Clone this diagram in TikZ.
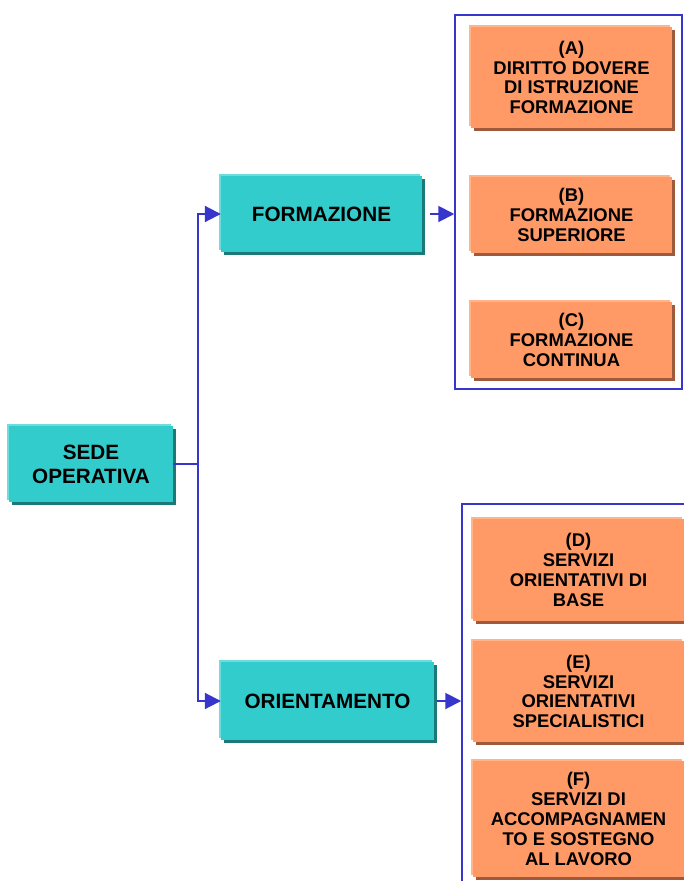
\documentclass[tikz,border=0pt]{standalone}
\usepackage{fontspec}
\setmainfont{Liberation Sans}
\usetikzlibrary{arrows.meta,shadows}
\definecolor{tealmain}{HTML}{33CCCC}
\definecolor{teallight}{HTML}{6CDCDC}
\definecolor{tealdark}{HTML}{1B7A78}
\definecolor{orgmain}{HTML}{FF9966}
\definecolor{orglight}{HTML}{FFB48A}
\definecolor{orgdark}{HTML}{9E5A3A}
\definecolor{linkblue}{HTML}{3636CC}
\tikzset{
  tealbox/.style={rectangle, inner sep=0pt, fill=tealmain, align=center,
    font=\bfseries\fontsize{20.7}{24}\selectfont,
    general shadow={fill=teallight, shadow xshift=-2pt, shadow yshift=2pt},
    general shadow={fill=tealdark, shadow xshift=3pt, shadow yshift=-3pt}},
  orgbox/.style={rectangle, inner sep=0pt, fill=orgmain, align=center,
    font=\bfseries\fontsize{18.4}{19.8}\selectfont,
    general shadow={fill=orglight, shadow xshift=-2pt, shadow yshift=2pt},
    general shadow={fill=orgdark, shadow xshift=3pt, shadow yshift=-3pt}},
  bracketbox/.style={rectangle, inner sep=0pt, draw=linkblue, line width=1.5pt},
  link/.style={draw=linkblue, line width=2pt},
  arrowlink/.style={link, -{Triangle[length=16pt,width=16pt]}}
}
\begin{document}
\begin{tikzpicture}[x=1pt,y=-1pt]
\clip (0,0) rectangle (684,881);
\fill[white] (0,0) rectangle (684,881);
% brackets
\node[bracketbox, minimum width=227pt, minimum height=374pt] (br1) at (568.5,202) {};
\node[bracketbox, minimum width=238pt, minimum height=396pt] (br2) at (581,702) {};
% main boxes
\node[tealbox, minimum width=164pt, minimum height=76pt] (sede) at (91,464) {SEDE\\OPERATIVA};
\node[tealbox, minimum width=201pt, minimum height=76pt] (form) at (321.5,214) {FORMAZIONE};
\node[tealbox, minimum width=213pt, minimum height=78pt] (orient) at (327.5,701) {ORIENTAMENTO};
% orange boxes
\node[orgbox, minimum width=201pt, minimum height=101pt] (a) at (571.5,77.5) {(A)\\DIRITTO DOVERE\\DI ISTRUZIONE\\FORMAZIONE};
\node[orgbox, minimum width=201pt, minimum height=76pt] (b) at (571.5,215) {(B)\\FORMAZIONE\\SUPERIORE};
\node[orgbox, minimum width=201pt, minimum height=76pt] (c) at (571.5,340) {(C)\\FORMAZIONE\\CONTINUA};
\node[orgbox, minimum width=211pt, minimum height=102pt] (d) at (578.5,570) {(D)\\SERVIZI\\ORIENTATIVI DI\\BASE};
\node[orgbox, minimum width=211pt, minimum height=101pt] (e) at (578.5,691.5) {(E)\\SERVIZI\\ORIENTATIVI\\SPECIALISTICI};
\node[orgbox, minimum width=211pt, minimum height=116pt] (f) at (578.5,819) {(F)\\SERVIZI DI\\ACCOMPAGNAMEN\\TO E SOSTEGNO\\AL LAVORO};
% connectors
\coordinate (jn) at (197.5,464);
\draw[link] (sede.east) -- (jn);
\draw[arrowlink] (jn) |- (form.west);
\draw[arrowlink] (jn) |- (orient.west);
\draw[arrowlink, shorten <=8pt] (form.east) -- (form.east -| br1.west);
\draw[arrowlink, shorten <=3pt] (orient.east) -- (orient.east -| br2.west);
\end{tikzpicture}
\end{document}
